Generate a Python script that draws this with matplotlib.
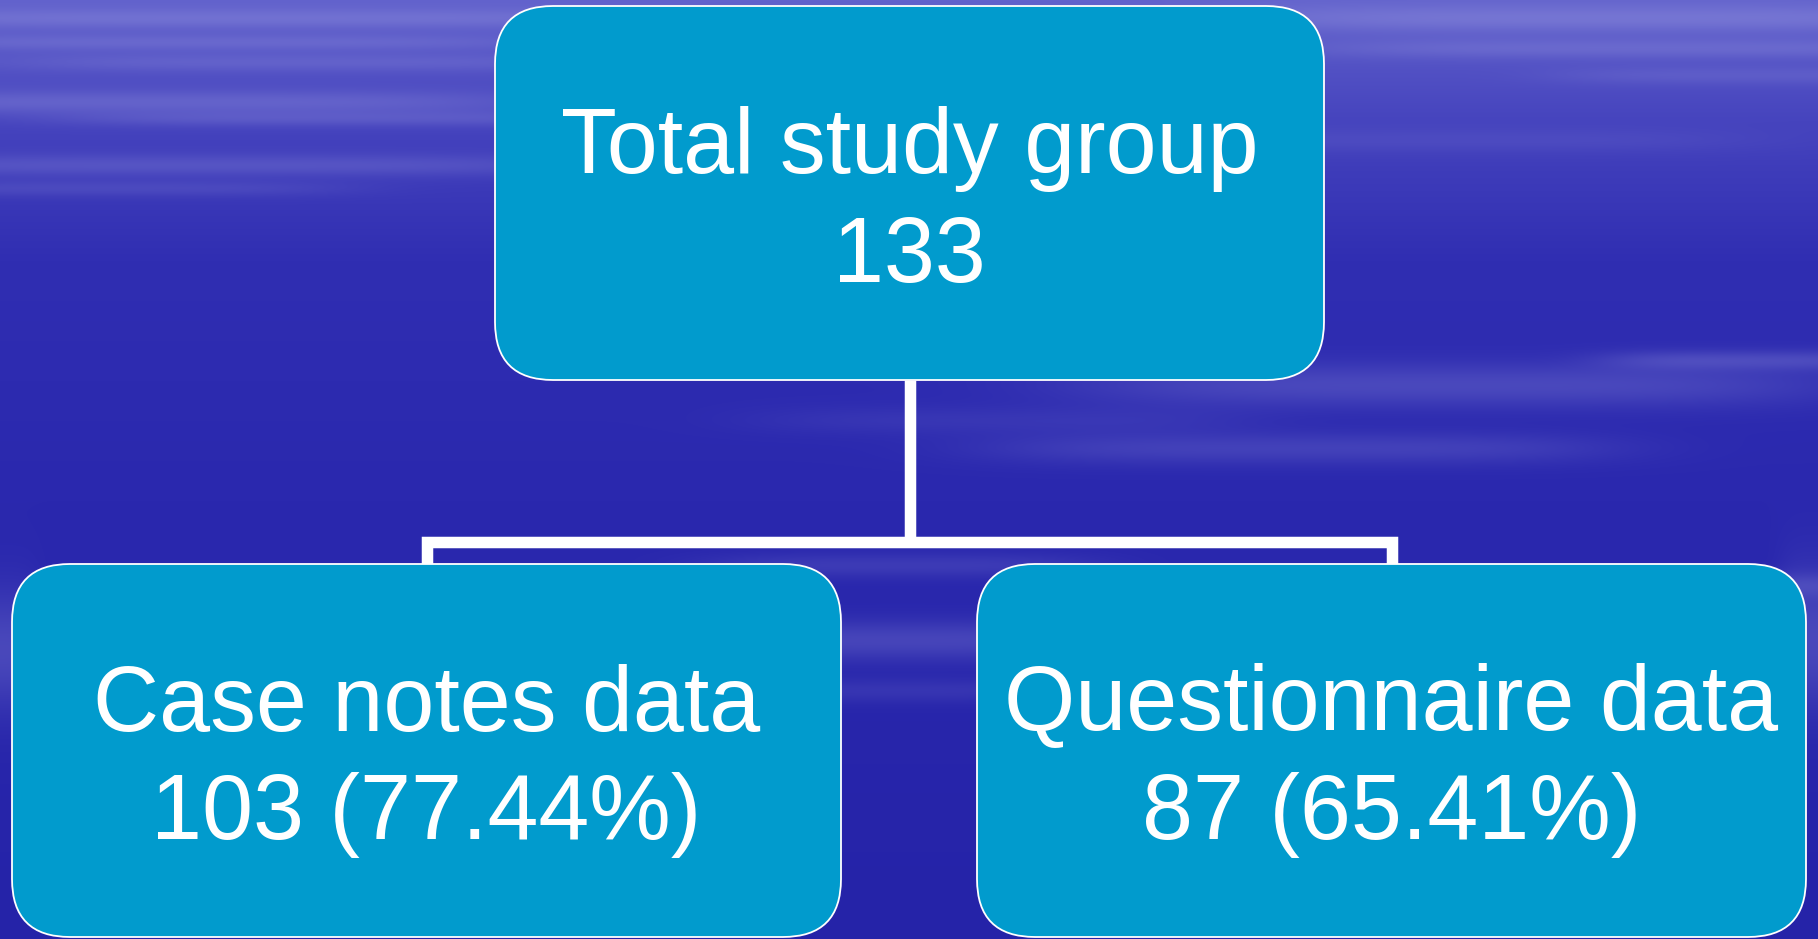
import numpy as np
import matplotlib
matplotlib.use("Agg")
import matplotlib.pyplot as plt
from matplotlib.patches import FancyBboxPatch

# ---- data ----
node_labels = ["Total study group", "Case notes data", "Questionnaire data"]
node_counts = [133, 103, 87]
node_pcts = [None, 77.44, 65.41]

W, H = 1818, 939
fig = plt.figure(figsize=(W / 100, H / 100), dpi=100)
ax = fig.add_axes([0, 0, 1, 1])
ax.set_xlim(0, W)
ax.set_ylim(H, 0)
ax.axis("off")

# ---- background: blue gradient with soft white streaks ----
yy, xx = np.mgrid[0:H, 0:W].astype(float)
stops_y = [0, 120, 260, 500, 939]
stops_c = np.array([[98, 98, 204], [70, 68, 190], [48, 46, 178], [42, 40, 174], [37, 35, 168]], float)
base = np.stack([np.interp(yy, stops_y, stops_c[:, k]) for k in range(3)], axis=-1)

# (x_center, y_center, half_length, half_thickness, strength)
streaks = [
    (250, 18, 450, 10, 0.20), (200, 42, 350, 8, 0.16), (300, 62, 300, 9, 0.14),
    (150, 102, 400, 12, 0.22), (350, 118, 300, 8, 0.16), (200, 165, 400, 11, 0.18),
    (100, 188, 250, 8, 0.12), (1600, 18, 400, 14, 0.24), (1650, 48, 350, 10, 0.18),
    (1750, 75, 200, 9, 0.12), (1450, 140, 300, 12, 0.08),
    (1450, 385, 380, 22, 0.20), (1750, 360, 150, 10, 0.20), (1300, 448, 320, 16, 0.16),
    (1000, 420, 250, 14, 0.08),
    (900, 565, 200, 12, 0.13), (900, 640, 220, 20, 0.20), (900, 690, 150, 12, 0.10),
    (0, 650, 40, 60, 0.22), (1818, 640, 40, 70, 0.22), (1700, 585, 200, 12, 0.16),
]
light = np.array([190, 190, 240], float)
alpha = np.zeros((H, W))
for xc, yc, L, t, s in streaks:
    a = s * np.exp(-((xx - xc) / L) ** 4) * np.exp(-((yy - yc) / t) ** 2)
    alpha = 1 - (1 - alpha) * (1 - a)
img = base * (1 - alpha[..., None]) + light * alpha[..., None]
ax.imshow(img.astype(np.uint8), extent=(0, W, H, 0), aspect="auto", zorder=0, interpolation="bilinear")

# ---- layout ----
boxes = [(495, 6, 829, 374), (12, 564, 829, 373), (977, 564, 829, 373)]
box_color = "#019BCD"

# connectors
top_cx = boxes[0][0] + boxes[0][2] / 2
top_bottom = boxes[0][1] + boxes[0][3]
child_cx = [b[0] + b[2] / 2 for b in boxes[1:]]
child_top = boxes[1][1]
bar_y = 541.5
lw = 11.5 * 72 / 100
ax.plot([top_cx, top_cx], [top_bottom, bar_y], color="white", lw=lw, solid_capstyle="butt", zorder=1)
ax.plot([child_cx[0], child_cx[0], child_cx[1], child_cx[1]],
        [child_top, bar_y, bar_y, child_top], color="white", lw=lw,
        solid_joinstyle="miter", solid_capstyle="butt", zorder=1)

for (x0, y0, w, h), label, cnt, pct in zip(boxes, node_labels, node_counts, node_pcts):
    p = FancyBboxPatch((x0, y0), w, h, boxstyle="round,pad=0,rounding_size=58",
                       facecolor=box_color, edgecolor="white", linewidth=1.3, zorder=2)
    ax.add_patch(p)
    cx = x0 + w / 2
    cy = y0 + h / 2
    line2 = f"{cnt}" if pct is None else f"{cnt} ({pct:.2f}%)"
    ax.text(cx, cy - 20, label, ha="center", va="baseline", color="white",
            fontsize=66, family="Liberation Sans", zorder=3)
    ax.text(cx, cy + 89, line2, ha="center", va="baseline", color="white",
            fontsize=66, family="Liberation Sans", zorder=3)

fig.savefig("out.png", dpi=100)
